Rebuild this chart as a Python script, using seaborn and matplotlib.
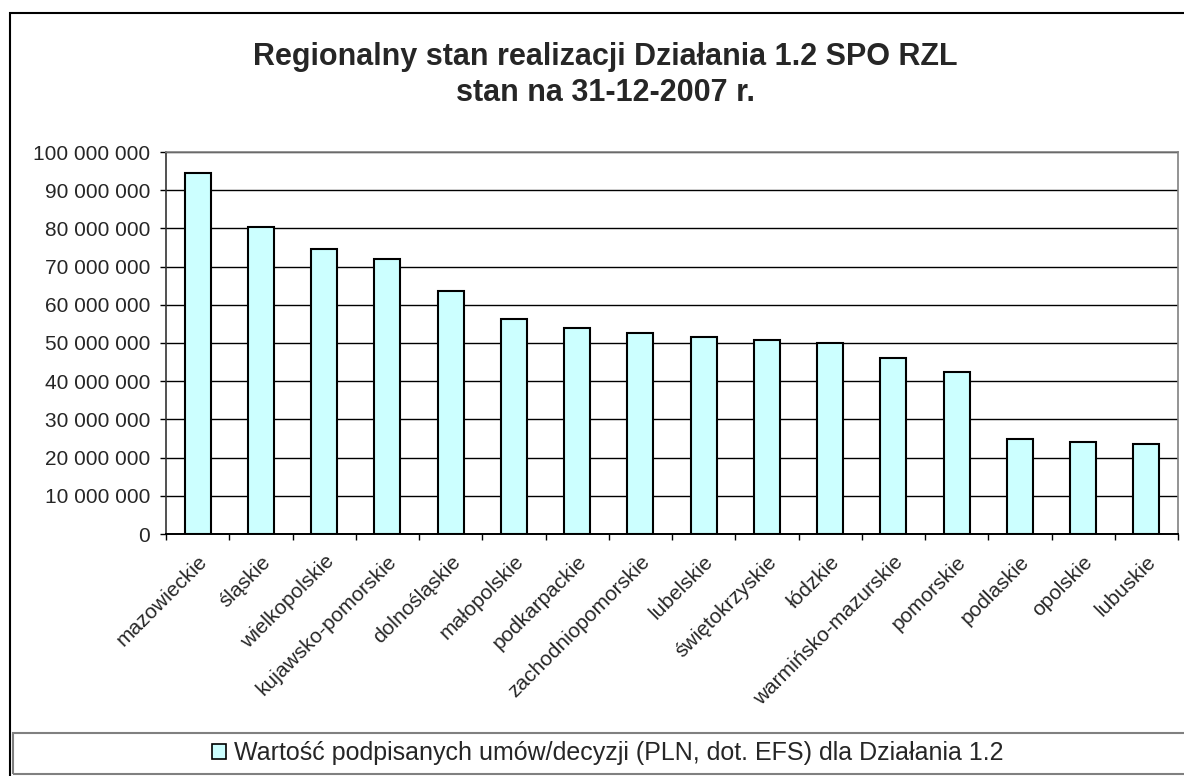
import matplotlib
matplotlib.use("Agg")
import matplotlib.pyplot as plt
import matplotlib.transforms as mtransforms
import seaborn as sns
import pandas as pd
from matplotlib.patches import Rectangle, Patch
from matplotlib.ticker import FuncFormatter, FixedLocator

regions = ["mazowieckie", "śląskie", "wielkopolskie", "kujawsko-pomorskie",
           "dolnośląskie", "małopolskie", "podkarpackie", "zachodniopomorskie",
           "lubelskie", "świętokrzyskie", "łódzkie", "warmińsko-mazurskie",
           "pomorskie", "podlaskie", "opolskie", "lubuskie"]
values = [94.4e6, 80.3e6, 74.7e6, 71.9e6, 63.5e6, 56.3e6, 54.0e6, 52.7e6,
          51.6e6, 50.7e6, 49.9e6, 46.0e6, 42.4e6, 24.9e6, 24.1e6, 23.5e6]
series_label = "Wartość podpisanych umów/decyzji (PLN, dot. EFS) dla Działania 1.2"
title = "Regionalny stan realizacji Działania 1.2 SPO RZL\nstan na 31-12-2007 r."
yticks = list(range(0, 100_000_001, 10_000_000))

sns.set_theme(style="white")
plt.rcParams['font.family'] = ['Liberation Sans', 'DejaVu Sans']

df = pd.DataFrame({"region": regions, "value": values})

W, H = 1184, 776
fig = plt.figure(figsize=(W / 100, H / 100), dpi=100)
fig.patch.set_facecolor("white")
L, R, T, B = 166, 1178, 152, 534
ax = fig.add_axes([L / W, 1 - B / H, (R - L) / W, (B - T) / H])

sns.barplot(data=df, x="region", y="value", color="#CCFFFF", edgecolor="black",
            linewidth=1.5, width=0.41, ax=ax, saturation=1)
for p in ax.patches:
    p.set_zorder(3)

ax.set_ylim(0, 100_000_000)
ax.set_xlim(-0.5, len(regions) - 0.5)
ax.set_yticks(yticks)
ax.yaxis.set_major_formatter(FuncFormatter(lambda v, _: f"{int(v):,}".replace(",", " ")))
ax.grid(axis="y", color="black", linewidth=1.0, zorder=0)
ax.set_axisbelow(True)
ax.set_xlabel("")
ax.set_ylabel("")

ax.set_xticks(range(len(regions)))
ax.set_xticklabels(regions, rotation=45, ha="right", va="top",
                   rotation_mode="anchor", fontsize=15)
shift = mtransforms.ScaledTranslation(-24 / 100, 0, fig.dpi_scale_trans)
for lab in ax.get_xticklabels():
    lab.set_transform(lab.get_transform() + shift)
ax.xaxis.set_minor_locator(FixedLocator([i - 0.5 for i in range(len(regions) + 1)]))
ax.tick_params(axis="x", which="major", length=0, pad=13)
ax.tick_params(axis="x", which="minor", length=4.5, width=1, color="black", direction="out", bottom=True)
ax.tick_params(axis="y", length=4.5, width=1, color="black", direction="out", left=True,
               labelsize=15, pad=7)

for side in ["top", "right"]:
    ax.spines[side].set_color("#808080")
    ax.spines[side].set_linewidth(1.2)
ax.spines["left"].set_color("#333333")
ax.spines["left"].set_linewidth(1.2)
ax.spines["bottom"].set_color("black")
ax.spines["bottom"].set_linewidth(1.4)
ax.set_facecolor("white")

fig.text(605 / W, 1 - 75 / H, title, ha="center", va="center", fontsize=22,
         fontweight="bold", linespacing=1.25)

# outer chart frame
fig.add_artist(Rectangle((9.5 / W, -0.05), 1.2, 1 - 13 / H + 0.05, transform=fig.transFigure,
                         fill=False, edgecolor="black", linewidth=1.5))
# legend box
fig.add_artist(Rectangle((12.5 / W, 1 - 774 / H), 1.2, (774 - 733) / H, transform=fig.transFigure,
                         fill=False, edgecolor="#808080", linewidth=1.5))

handle = Patch(facecolor="#CCFFFF", edgecolor="black", linewidth=1.2)
fig.legend(handles=[handle], labels=[series_label], loc="center",
           bbox_to_anchor=(608 / W, 1 - 753 / H), frameon=False, fontsize=18,
           handlelength=0.55, handleheight=0.55, handletextpad=0.32,
           borderpad=0, borderaxespad=0)

fig.savefig("out.png", dpi=100, facecolor="white")
